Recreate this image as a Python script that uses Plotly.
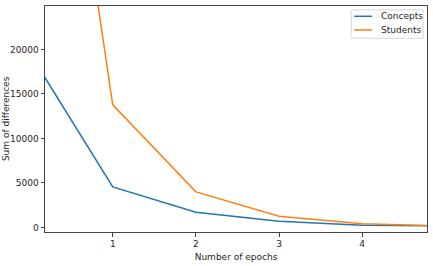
import plotly.graph_objects as go

epochs = [0, 1, 2, 3, 4, 5]
concepts = [19600, 4540, 1710, 690, 250, 180]
students = [76800, 13770, 3990, 1240, 400, 170]
series_names = ["Concepts", "Students"]
colors = ["#1f77b4", "#ff7f0e"]
ytick_vals = [0, 5000, 10000, 15000, 20000]
ytick_text = ["0", "5000", "10000", "15000", "20000"]

font = dict(family="DejaVu Sans", size=9, color="#262626")

fig = go.Figure()
for name, ys, c in zip(series_names, [concepts, students], colors):
    fig.add_trace(go.Scatter(x=epochs, y=ys, mode="lines", name=name,
                             line=dict(color=c, width=1.5), showlegend=False))

L, R, T, B = 45, 428, 5, 236
W, H = R - L, B - T
def px(x):
    return (x - L) / W
def py(y):
    return (B - y) / H

shapes = [dict(type="rect", xref="paper", yref="paper",
               x0=px(352), x1=px(424), y0=py(38), y1=py(9),
               line=dict(color="#d6d6d6", width=1), fillcolor="rgba(255,255,255,0.8)", layer="above")]
annotations = []
for i, (name, c) in enumerate(zip(series_names, colors)):
    yy = 15.5 + 14 * i
    shapes.append(dict(type="line", xref="paper", yref="paper",
                       x0=px(355), x1=px(373), y0=py(yy), y1=py(yy),
                       line=dict(color=c, width=1.5), layer="above"))
    annotations.append(dict(text=name, xref="paper", yref="paper", x=px(380), y=py(yy),
                            xanchor="left", yanchor="middle", showarrow=False, font=font))

annotations.append(dict(text="Sum of differences", xref="paper", yref="paper",
                        x=px(6), y=0.5, xanchor="center", yanchor="middle",
                        textangle=-90, showarrow=False, font=font))

fig.update_layout(
    width=433, height=266,
    margin=dict(l=L, r=433 - R, t=T, b=266 - B),
    paper_bgcolor="white", plot_bgcolor="white",
    font=font,
    showlegend=False,
    xaxis=dict(range=[0.185, 4.78], tickvals=[1, 2, 3, 4], showgrid=False, zeroline=False,
               showline=True, linecolor="#444444", linewidth=1, mirror=True,
               ticks="outside", ticklen=3.5, tickcolor="#444444",
               title=dict(text="Number of epochs", font=font, standoff=5)),
    yaxis=dict(range=[-520, 24870], tickvals=ytick_vals, ticktext=ytick_text, showgrid=False,
               zeroline=False, showline=True, linecolor="#444444", linewidth=1, mirror=True,
               ticks="outside", ticklen=3.5, tickcolor="#444444"),
    shapes=shapes,
    annotations=annotations,
)

fig.write_html("out.html")
